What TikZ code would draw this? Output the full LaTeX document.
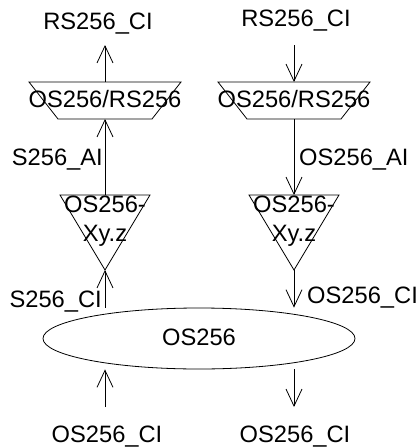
\documentclass[tikz,border=0pt]{standalone}
\usepackage{fontspec}
\setmainfont{Liberation Sans}
\usetikzlibrary{arrows.meta,positioning,shapes.geometric}
\tikzset{lbl/.style={inner sep=0, font=\fontsize{23.7}{29}\selectfont}}
\tikzset{arr/.style={draw, -{Straight Barb[length=17pt,width=16pt]}, line width=0.8pt}}
\tikzset{outline/.style={draw, line width=0.8pt}}
\newcommand\muxbox[2]{
		\coordinate (#1-top) at (#2,82);
		\coordinate (#1-bot) at (#2,119);
		\draw[outline] ({#2-76},82) -- ({#2+76},82) -- ({#2+47},119) -- ({#2-47},119) -- cycle;
		\node[lbl, anchor=base] (#1) at (#2,107) {OS256/RS256};
	}
\newcommand\adaptbox[2]{
		\coordinate (#1-top) at (#2,195);
		\coordinate (#1-tip) at (#2,270);
		\draw[outline] ({#2-45},195) -- ({#2+45},195) -- (#1-tip) -- cycle;
		\node[lbl, align=center] (#1) at (#2,221.4) {OS256-\\Xy.z};
	}

\begin{document}
\begin{tikzpicture}[x=1pt, y=-1pt]
                \useasboundingbox (0,0) rectangle (418,447);
                \muxbox{mux1}{105}
                \muxbox{mux2}{294}
                \adaptbox{ad1}{105}
                \adaptbox{ad2}{294}
                \node[lbl, outline, ellipse, minimum width=312pt, minimum height=61pt, text height=17pt, text depth=4pt] (os) at (199,338.5) {OS256};

                % labels
                \node[lbl, anchor=base] (ciTop1) at (98,29) {RS256\_CI};
                \node[lbl, anchor=base] (ciTop2) at (296,27) {RS256\_CI};
                \node[lbl, anchor=base east] (ai1) at (103,165) {S256\_AI};
                \node[lbl, anchor=base west] (ai2) at (299,165) {OS256\_AI};
                \node[lbl, anchor=base east] (ci1) at (102,307) {S256\_CI};
                \node[lbl, anchor=base west] (ci2) at (307,303) {OS256\_CI};
                \node[lbl, anchor=base] (ciBot1) at (107,442) {OS256\_CI};
                \node[lbl, anchor=base] (ciBot2) at (295,442) {OS256\_CI};

                \coordinate (out1) at (105,45);
                \coordinate (in2) at (294,45);
                \coordinate (in1) at (105,407);
                \coordinate (out2) at (294,407);

                % left column, upwards
                \draw[arr] (mux1-top) -- (out1);
                \draw[arr] (ad1-top) -- (mux1-bot);
                \draw[arr] (ad1-tip |- os.north) -- (ad1-tip);
                \draw[arr] (in1) -- (in1 |- os.south);
                % right column, downwards
                \draw[arr] (in2) -- (mux2-top);
                \draw[arr] (mux2-bot) -- (ad2-top);
                \draw[arr] (ad2-tip) -- (ad2-tip |- os.north);
                \draw[arr] (out2 |- os.south) -- (out2);
            \end{tikzpicture}
\end{document}
